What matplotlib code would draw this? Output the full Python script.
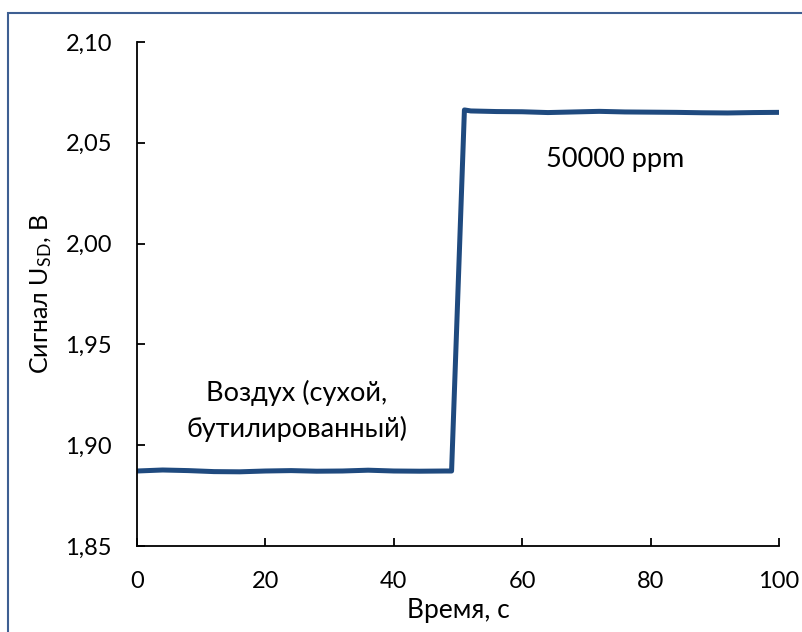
import matplotlib
matplotlib.use('Agg')
import matplotlib.pyplot as plt
from matplotlib.patches import Rectangle

plt.rcParams['font.family'] = ['Lato', 'DejaVu Sans']
plt.rcParams['mathtext.default'] = 'regular'

# время, с
time = [0, 4, 8, 12, 16, 20, 24, 28, 32, 36, 40, 44, 48, 49,
        51, 52, 56, 60, 64, 68, 72, 76, 80, 84, 88, 92, 96, 100]
# сигнал, В
signal = [1.8872, 1.8877, 1.8874, 1.8869, 1.8868, 1.8872, 1.8874, 1.8871,
          1.8872, 1.8876, 1.8872, 1.8871, 1.8872, 1.8872,
          2.0663, 2.0658, 2.0655, 2.0654, 2.0650, 2.0653, 2.0656, 2.0653,
          2.0652, 2.0651, 2.0649, 2.0648, 2.0650, 2.0651]

x_ticks = [0, 20, 40, 60, 80, 100]
y_ticks = [1.85, 1.90, 1.95, 2.00, 2.05, 2.10]
y_labels = ['1,85', '1,90', '1,95', '2,00', '2,05', '2,10']

fig = plt.figure(figsize=(8.03, 6.32), dpi=100)
ax = fig.add_axes([137/803, 1 - 546/632, (779-137)/803, (546-42)/632])

ax.plot(time, signal, color='#1F4A7F', lw=3.6, solid_joinstyle='round', solid_capstyle='butt')

ax.set_xlim(0, 100)
ax.set_ylim(1.85, 2.10)
ax.set_xticks(x_ticks)
ax.set_yticks(y_ticks)
ax.set_yticklabels(y_labels)
for s in ['top', 'right']:
    ax.spines[s].set_visible(False)
for s in ['left', 'bottom']:
    ax.spines[s].set_linewidth(1.3)
ax.tick_params(direction='in', length=5.5, width=1.3, labelsize=17, pad=18)

ax.set_xlabel('Время, с', fontsize=19, labelpad=4)
ax.set_ylabel('Сигнал U$_{SD}$, В', fontsize=18, labelpad=8)

ax.text(74.5, 2.0415, '50000 ppm', fontsize=19.5, ha='center', va='center')
ax.text(24.9, 1.917, 'Воздух (сухой,\nбутилированный)', fontsize=19.5, ha='center',
        va='center', linespacing=1.5)

fig.patches.append(Rectangle((8/803, -0.1), 1.2, 1 - 13/632 + 0.1, transform=fig.transFigure,
                             fill=False, edgecolor='#3E5F92', lw=1.5))

fig.savefig('out.png', dpi=100)
